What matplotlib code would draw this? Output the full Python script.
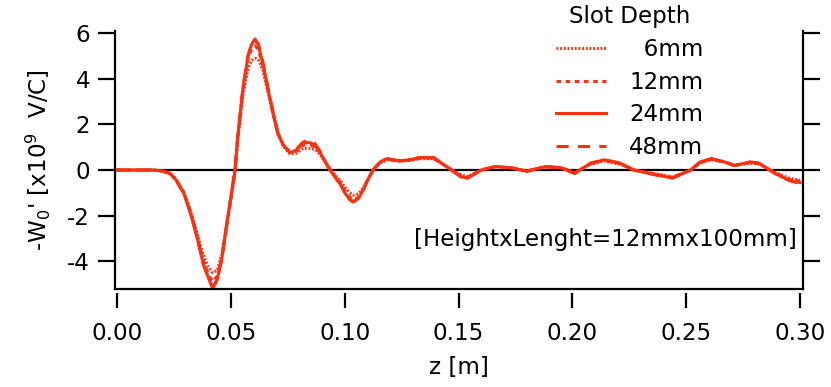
import matplotlib.pyplot as plt
from matplotlib.lines import Line2D

plt.rcParams["font.family"] = "DejaVu Sans"
plt.rcParams["font.size"] = 16.6
plt.rcParams["axes.unicode_minus"] = False
plt.rcParams["mathtext.default"] = "regular"

red = "#ff3010"

# longitudinal position along the structure [m]
z = [0.000, 0.010, 0.016, 0.020, 0.0233, 0.0260, 0.0277, 0.0290, 0.0310,
     0.0334, 0.0355, 0.0378, 0.0400, 0.0420, 0.0440, 0.0460, 0.0480,
     0.0496, 0.0518, 0.0530, 0.0553, 0.0575, 0.0590, 0.0606, 0.0620,
     0.0640, 0.0670, 0.0690, 0.0707, 0.0730, 0.0760, 0.0790, 0.0817,
     0.0850, 0.0870, 0.0890, 0.0915, 0.0935, 0.0960, 0.0980, 0.1000,
     0.1023, 0.1037, 0.1060, 0.1080, 0.1100, 0.1124, 0.1155, 0.1185,
     0.1240, 0.1290, 0.1330, 0.1390, 0.1440, 0.1510, 0.1540, 0.1600,
     0.1660, 0.1730, 0.1800, 0.1880, 0.1950, 0.2010, 0.2080, 0.2140,
     0.2210, 0.2270, 0.2360, 0.2440, 0.2520, 0.2560, 0.2610, 0.2670,
     0.2710, 0.2780, 0.2820, 0.2890, 0.2950, 0.3000]

# wake potential -W0' [x1e9 V/C] for each slot depth
w_24 = [0.00, 0.00, 0.00, -0.05, -0.15, -0.45, -0.75, -0.95, -1.50,
        -2.30, -3.10, -4.10, -4.70, -5.20, -4.80, -3.90, -2.50,
        -1.45, 0.00, 1.45, 3.60, 5.00, 5.50, 5.75, 5.50,
        4.70, 3.20, 2.30, 1.60, 1.10, 0.75, 0.90, 1.20,
        1.20, 1.05, 0.80, 0.35, 0.00, -0.35, -0.60, -1.00,
        -1.30, -1.40, -1.25, -0.90, -0.45, 0.00, 0.35, 0.50,
        0.40, 0.45, 0.55, 0.55, 0.20, -0.30, -0.35, 0.00,
        0.15, 0.10, -0.05, 0.15, 0.10, -0.15, 0.30, 0.45,
        0.30, 0.00, -0.20, -0.35, 0.00, 0.35, 0.50, 0.35,
        0.20, 0.35, 0.30, -0.15, -0.45, -0.55]

w_48 = [0.00, 0.00, 0.00, -0.05, -0.15, -0.45, -0.75, -0.95, -1.50,
        -2.30, -3.10, -4.10, -4.70, -5.15, -4.80, -3.90, -2.50,
        -1.45, 0.00, 1.45, 3.60, 5.00, 5.50, 5.70, 5.55,
        4.75, 3.25, 2.30, 1.60, 1.10, 0.78, 0.95, 1.22,
        1.35, 1.15, 0.85, 0.35, 0.00, -0.35, -0.60, -1.00,
        -1.30, -1.40, -1.25, -0.90, -0.45, 0.00, 0.35, 0.50,
        0.40, 0.45, 0.55, 0.55, 0.20, -0.30, -0.35, 0.00,
        0.15, 0.10, -0.05, 0.15, 0.10, -0.15, 0.30, 0.45,
        0.30, 0.00, -0.20, -0.35, 0.00, 0.35, 0.50, 0.35,
        0.20, 0.35, 0.30, -0.15, -0.45, -0.60]

w_12 = [0.00, 0.00, 0.00, -0.05, -0.15, -0.45, -0.75, -0.95, -1.50,
        -2.25, -3.05, -4.00, -4.55, -4.90, -4.65, -3.85, -2.55,
        -1.50, -0.05, 1.40, 3.50, 4.85, 5.30, 5.45, 5.30,
        4.60, 3.20, 2.30, 1.60, 1.10, 0.75, 0.85, 1.10,
        1.10, 1.00, 0.78, 0.35, 0.00, -0.30, -0.55, -0.90,
        -1.20, -1.30, -1.20, -0.85, -0.45, 0.00, 0.35, 0.48,
        0.40, 0.45, 0.52, 0.52, 0.20, -0.25, -0.32, 0.00,
        0.15, 0.10, -0.05, 0.15, 0.10, -0.12, 0.28, 0.42,
        0.28, 0.00, -0.18, -0.32, 0.00, 0.33, 0.48, 0.35,
        0.20, 0.33, 0.28, -0.12, -0.40, -0.50]

w_6 = [0.00, 0.00, 0.00, -0.05, -0.15, -0.40, -0.70, -0.90, -1.40,
       -2.15, -2.90, -3.70, -4.25, -4.50, -4.40, -3.70, -2.50,
       -1.50, -0.10, 1.30, 3.30, 4.45, 4.80, 4.90, 4.85,
       4.40, 3.10, 2.25, 1.55, 1.05, 0.70, 0.75, 0.95,
       0.95, 0.90, 0.70, 0.35, 0.05, -0.25, -0.45, -0.75,
       -1.00, -1.10, -1.05, -0.80, -0.45, 0.00, 0.30, 0.45,
       0.40, 0.42, 0.50, 0.50, 0.20, -0.20, -0.28, 0.00,
       0.15, 0.10, -0.05, 0.12, 0.10, -0.10, 0.25, 0.40,
       0.25, 0.00, -0.15, -0.30, 0.00, 0.30, 0.45, 0.35,
       0.20, 0.30, 0.25, -0.10, -0.35, -0.45]

labels = ["\u20076mm", "12mm", "24mm", "48mm"]
styles = [(0, (0.6, 0.6)), (0, (1.5, 1.5)), "-", (0, (4, 3))]

fig = plt.figure(figsize=(8.31, 3.87), dpi=100)
ax = fig.add_axes([0.1384, 0.2532, 0.9663 - 0.1384, 0.9199 - 0.2532])

for w, ls in zip([w_6, w_12, w_24, w_48], styles):
    ax.plot(z, w, color=red, lw=2.2, ls=ls)

ax.axhline(0, color="black", lw=1.6, zorder=1)

ax.set_xlim(-0.0009, 0.3013)
ax.set_ylim(-5.22, 6.1)

for s in ["left", "right", "bottom"]:
    ax.spines[s].set_linewidth(1.6)
ax.spines["top"].set_visible(False)

ax.set_yticks([-4, -2, 0, 2, 4, 6])
ax.tick_params(axis="y", which="both", direction="out", length=12, width=1.6,
               pad=6, left=True, right=True, labelright=False)
ax.tick_params(axis="x", bottom=False, labelbottom=False)

# x ticks drawn slightly below the axis line
sec = ax.secondary_xaxis("bottom")
sec.spines["bottom"].set_position(("outward", 3))
sec.spines["bottom"].set_visible(False)
sec.set_xticks([0.0, 0.05, 0.10, 0.15, 0.20, 0.25, 0.30])
sec.set_xticklabels(["0.00", "0.05", "0.10", "0.15", "0.20", "0.25", "0.30"])
sec.tick_params(direction="out", length=11, width=1.6, pad=10)
sec.set_xlabel("z [m]", labelpad=8)

ax.set_ylabel("-W$_0$' [x10$^9$  V/C]", labelpad=10)

ax.text(0.991, 0.19, "[HeightxLenght=12mmx100mm]", transform=ax.transAxes,
        ha="right", va="center")

handles = [Line2D([], [], color=red, lw=2.2, ls=ls) for ls in styles]
leg = fig.legend(handles, labels, title="Slot Depth", frameon=False,
                 loc="upper left", bbox_to_anchor=(0.652, 1.022),
                 handlelength=2.2, handletextpad=1.0, labelspacing=0.42,
                 borderaxespad=0.2)
leg.get_title().set_fontsize(16.6)

fig.savefig("out.png", dpi=100)
